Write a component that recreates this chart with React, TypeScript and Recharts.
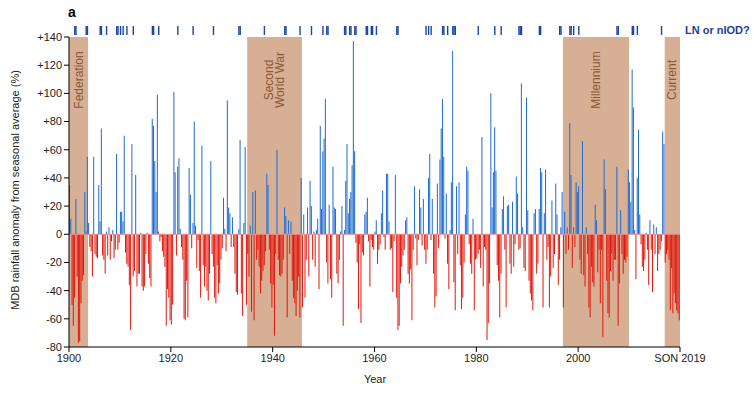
import { ComposedChart, Bar, Cell, XAxis, YAxis, ReferenceArea, ReferenceLine, Scatter } from "recharts";

const FIRST_YEAR = 1900;

// MDB seasonal rainfall anomaly (%), four seasons per year, DJF 1900 .. SON 2019
const anom1900s = [
  35, 11, -50, -65, -45, 25, -30, -77, -76, -49,
  -33, -29, 30, 2, 55, 8, -9, -12, -30, 55,
  -14, -16, -17, 35, 9, 75, -15, -18, -28, 2,
  -15, 5, -18, -5, 3, -17, -11, 57, -11, -6,
  16, 16, 9, 70, -13, -21, -23, -36, -68, 64,
  -30, -26, 42, -37, -28, -28, 1, -37, -40, -37,
  -14, 1, -21, -31, -37, 82, 77, 52, 30, 99,
  2, -5, -2, -12, -16, -23, -65, -39, -45, -61,
];
const anom1920s = [
  -64, -50, 101, 44, -15, 48, 54, 4, -9, -18,
  -60, -61, -33, -59, 47, 28, -10, 8, 80, 6,
  -24, -4, -26, -45, 63, -22, -37, -23, -40, -47,
  -28, 52, -14, -23, -45, -49, -22, -42, -35, -18,
  -10, 26, 4, -12, 95, 19, 15, -9, 12, -9,
  -28, -41, -43, 3.5, 67, -42, -58, 8, 62, -50,
  -14, -30, 6, -55, 30, -61, 31, -18, -11, -23,
  -42, -33, -26, -22, -12, 43, 35, -11, -35, -52,
];
const anom1940s = [
  -36, -72, -14, 60, -18, -29, -30, -28, -18, 19,
  13, -59, 10, -14, 9, -33, -45, -49, -58, -40,
  -30, -59, 40, -52, 14, -45, -18, 19, -30, 38,
  20, -18, 2, -23, 3, 11, -39, 77, 18, 59,
  68, 96, -20, -35, 21, -32, -45, 48, 19, 18,
  -28, -35, -18, 2, 20, -65, 3, 38, 64, 15,
  25, 30, 49, 137, 59, -6, -20, -53, -7, -63,
  -13, -15, 14, 16, 26, -5, -37, -4, -9, -11,
];
const anom1960s = [
  2, 10, -21, -11, -7, 15, 31, -2, -11, 43,
  43, 9, -11, -10, -41, -5, 42, -45, -68, -65,
  -35, -23, -15, -11, 10, 12, -28, -35, -25, -61,
  -11, 34, -3, -22, -4, 32, 19, -8, 25, -11,
  -21, -11, 40, 57, -4, 25, -28, -52, -44, 36,
  -10, 53, 75, 96, 55, -3, 29, -21, -39, 3,
  37, 130, -34, -54, 34, -14, 37, -22, -53, -45,
  -20, 14, 48, 45, -7, -21, -28, 11, -54, -18,
];
const anom1980s = [
  -17, -14, -11, -24, 69, -37, -9, -11, -75, -63,
  -35, 100, 19, 44, 76, 45, -22, -33, -59, -28,
  18, 27, -11, -52, 20, 21, -21, -28, 23, -23,
  -7, 41, 29, -11, -10, 107, 5, -24, -26, 97,
  17, -33, -42, -47, -54, 15, 18, -28, -21, 18,
  47, 44, -52, 15, 46, -18, -9, -52, -30, 24,
  -24, -14, 36, 14, -36, -18, 5, 30, -52, 16,
  -14, 5, -11, 79, 42, -24, 5, -9, 37, 30,
];
const anom2000s = [
  34, -18, -28, 66, -29, -37, 5, -14, -52, -59,
  -23, -34, -37, 21, 10, -27, -11, -49, -11, -73,
  53, 32, -33, -56, -59, -26, -14, -33, -18, -18,
  48, -65, -35, 17, -14, -28, -18, -20, -16, 46,
  37, 23, 117, 90, 3, -32, 40, 74, 14, -7,
  -23, -26, -18, 1, -11, -36, 10, -11, -41, 7,
  -14, 5, -26, -14, -11, -5, 73, 64, -20, -14,
  -11, -18, -54, -24, -56, -42, -49, -54, -56, -61,
];
const ANOMALY = [...anom1900s, ...anom1920s, ...anom1940s, ...anom1960s, ...anom1980s, ...anom2000s];

// seasons (index from DJF 1900) flagged La Niña or negative IOD
const LN_SEASONS = [
  4, 5, 13, 14, 24, 25, 29, 37, 38, 40, 42, 45, 50, 65, 66, 70, 85, 97, 113, 133, 134,
  153, 169, 170, 181, 190, 199, 202, 203, 216, 217, 220, 221, 224, 225, 233, 234, 237, 238,
  241, 257, 258, 280, 282, 284, 293, 294, 297, 301, 302, 303, 321, 334, 339, 353, 354, 355,
  369, 370, 385, 386, 393, 394, 396, 400, 430, 431, 442, 443, 446, 465,
];

const PERIOD_NAMES = [["Federation"], ["Second", "World War"], ["Millennium"], ["Current"]];
const PERIOD_FROM = [1900, 1935, 1997, 2017];
const PERIOD_TO = [1903.75, 1945.75, 2010, 2020];

const X_TICKS = [1900, 1920, 1940, 1960, 1980, 2000, 2020];
const Y_TICKS = [-80, -60, -40, -20, 0, 20, 40, 60, 80, 100, 120, 140];

const BLUE = "#1f6ad2";
const RED = "#e2170c";
const SHADE = "#d7af94";
const BROWN = "#8a5a34";
const FONT = "'Liberation Sans', Arial, Helvetica, sans-serif";

const data = ANOMALY.map((v, i) => ({ i, yr: FIRST_YEAR + (i + 0.5) / 4, v }));
const lnData = LN_SEASONS.map(i => ({ yr: FIRST_YEAR + (i + 0.5) / 4, y: 140 }));

function PeriodLabel({ viewBox, lines }: { viewBox?: any; lines: string[] }) {
  if (!viewBox) return null;
  const cx = viewBox.x + viewBox.width / 2;
  const cy = 80;
  return (
    <g>
      {lines.map((t, k) => {
        const x = cx + (k - (lines.length - 1) / 2) * 11;
        return (
          <text key={t} x={x} y={cy} transform={`rotate(-90 ${x} ${cy})`} textAnchor="middle"
            dominantBaseline="central" fontSize={12} fill={BROWN} fontFamily={FONT}>{t}</text>
        );
      })}
    </g>
  );
}

// small vertical tick drawn just above the plot for each flagged season
const LnTick = (p: any) => <rect x={p.cx - 0.7} y={p.cy - 11} width={1.4} height={9} fill="#1d45a6" />;

export default function App() {
  return (
    <div style={{ position: "absolute", left: 0, top: 0, width: 754, height: 394, background: "#fff", fontFamily: FONT }}>
      <ComposedChart width={754} height={394} data={data} barCategoryGap={0} barGap={0}
        margin={{ top: 37, right: 74, bottom: 17, left: 24 }}>
        <XAxis xAxisId="yr" dataKey="yr" type="number" domain={[1900, 2020]} ticks={X_TICKS}
          tickFormatter={v => (v === 2020 ? "SON 2019" : String(v))} height={30}
          tick={{ fontSize: 11, fill: "#222", fontFamily: FONT }} stroke="#000" tickSize={5} />
        <XAxis xAxisId="cat" dataKey="i" type="category" hide height={0} />
        <YAxis domain={[-80, 140]} ticks={Y_TICKS} width={45}
          tickFormatter={v => (v > 0 ? "+" + v : String(v))}
          tick={{ fontSize: 11, fill: "#222", fontFamily: FONT }} stroke="#000" tickSize={5} />
        {PERIOD_NAMES.map((n, k) => (
          <ReferenceArea key={n.join(" ")} xAxisId="yr" x1={PERIOD_FROM[k]} x2={PERIOD_TO[k]} y1={-80} y2={140}
            fill={SHADE} fillOpacity={1} stroke="none" ifOverflow="visible"
            label={(props: any) => <PeriodLabel viewBox={props.viewBox} lines={n} />} />
        ))}
        <ReferenceLine y={0} xAxisId="yr" stroke="#f08a86" strokeWidth={1} />
        <Bar xAxisId="cat" dataKey="v" isAnimationActive={false}>
          {data.map(d => <Cell key={d.i} fill={d.v >= 0 ? BLUE : RED} />)}
        </Bar>
        <Scatter xAxisId="yr" data={lnData} dataKey="y" shape={LnTick} isAnimationActive={false} />
      </ComposedChart>
      <div style={{ position: "absolute", left: 68, top: 4, fontSize: 14, fontWeight: "bold", color: "#000" }}>a</div>
      <div style={{ position: "absolute", left: 685, top: 24, fontSize: 11, fontWeight: "bold", color: "#1c3f9e", whiteSpace: "nowrap" }}>LN or nIOD?</div>
      <div style={{ position: "absolute", left: 15 - 150, top: 190 - 7, width: 300, height: 14, lineHeight: "14px",
        textAlign: "center", fontSize: 11, color: "#222", transform: "rotate(-90deg)" }}>
        MDB rainfall anomaly from seasonal average (%)
      </div>
      <div style={{ position: "absolute", left: 325, top: 373, width: 100, textAlign: "center", fontSize: 11, color: "#222" }}>Year</div>
    </div>
  );
}
